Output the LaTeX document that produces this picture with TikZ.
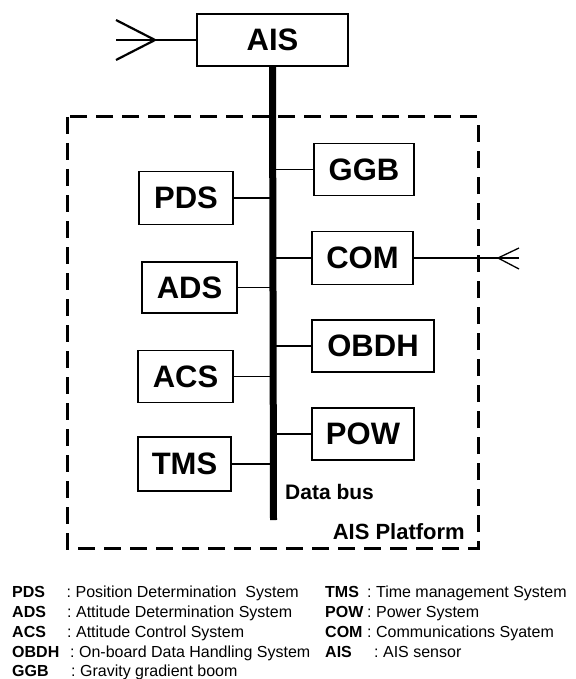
\documentclass[tikz,border=0pt]{standalone}
\usepackage{fontspec}
\setmainfont{Liberation Sans}
\begin{document}
\begin{tikzpicture}[x=1pt,y=-1pt,
  sysbox/.style={draw,line width=1.5pt,inner sep=0pt,font=\fontsize{31}{31}\selectfont\bfseries},
  conn/.style={line width=1.3pt},
  busline/.style={line width=7pt},
  platform/.style={draw,line width=3pt,dash pattern=on 17pt off 9pt},
  lbl/.style={inner sep=0pt,font=\fontsize{21}{21}\selectfont\bfseries},
  abbr/.style={anchor=base west,inner sep=0pt,font=\fontsize{16}{16}\selectfont\bfseries},
  desc/.style={anchor=base west,inner sep=0pt,font=\fontsize{16}{16}\selectfont}]
\useasboundingbox (0,0) rectangle (575,679);
% platform
\draw[platform] (67,117) rectangle (478,548);
% AIS
\node[sysbox,minimum width=151pt,minimum height=52pt] (ais) at (272.5,40) {AIS};
\coordinate (aisfree) at (116,40);
\coordinate (aistip) at (155,40);
\coordinate (aisup) at (116,20);
\coordinate (aisdn) at (116,60);
\draw[line width=2.8pt] (ais.west) -- (aisfree);
\draw[line width=2.2pt] (aisup) -- (aistip) -- (aisdn);
% bus
\coordinate (busbot) at (273.5,520);
\draw[busline] (ais.south) -- (busbot);
% left boxes
\node[sysbox,minimum width=94pt,minimum height=53pt] (pds) at (186,198) {PDS};
\node[sysbox,minimum width=95pt,minimum height=51pt] (ads) at (189.5,287.5) {ADS};
\node[sysbox,minimum width=95pt,minimum height=52pt] (acs) at (185.5,376.5) {ACS};
\node[sysbox,minimum width=93pt,minimum height=54pt] (tms) at (184.5,464) {TMS};
% right boxes
\node[sysbox,minimum width=100pt,minimum height=52pt] (ggb) at (364,169.5) {GGB};
\node[sysbox,minimum width=101pt,minimum height=53pt] (com) at (362.5,258) {COM};
\node[sysbox,minimum width=122pt,minimum height=52pt] (obdh) at (373,346) {OBDH};
\node[sysbox,minimum width=102pt,minimum height=52pt] (pow) at (363,434) {POW};
% connectors
\foreach \b in {pds,ads,acs,tms} \draw[conn] (\b.east) -- (\b.east -| busbot);
\foreach \b in {ggb,com,obdh,pow} \draw[conn] (\b.west) -- (\b.west -| busbot);
% COM antenna
\coordinate (comfree) at (519,258);
\coordinate (comtip) at (498,258);
\coordinate (comup) at (519,248);
\coordinate (comdn) at (519,269);
\draw[conn] (com.east) -- (comfree);
\draw[conn] (comup) -- (comtip) -- (comdn);
% labels
\node[lbl,anchor=base west] (databus) at (285,499) {Data bus};
\node[lbl,anchor=base east,font=\fontsize{22}{22}\selectfont\bfseries] (platlbl) at (465,539) {AIS Platform};
% legend
\node[abbr] (l1) at (12,597) {PDS};
\node[desc] (d1) at (66.5,597) {:\ Position Determination\ \ System};
\node[abbr] (l2) at (12,617.5) {ADS};
\node[desc] (d2) at (67,617.5) {:\ Attitude Determination System};
\node[abbr] (l3) at (12,637.5) {ACS};
\node[desc] (d3) at (67,637.5) {:\ Attitude Control System};
\node[abbr] (l4) at (12,657) {OBDH};
\node[desc] (d4) at (70,657) {:\ On-board Data Handling System};
\node[abbr] (l5) at (12,676) {GGB};
\node[desc] (d5) at (71,676) {:\ Gravity gradient boom};
\node[abbr] (r1) at (325,597) {TMS};
\node[desc] (e1) at (367,597) {:\ Time management System};
\node[abbr] (r2) at (325,617.5) {POW};
\node[desc] (e2) at (367,617.5) {:\ Power System};
\node[abbr] (r3) at (325,637.5) {COM};
\node[desc] (e3) at (367,637.5) {:\ Communications Syatem};
\node[abbr] (r4) at (325,657) {AIS};
\node[desc] (e4) at (374,657) {:\ AIS sensor};
\end{tikzpicture}
\end{document}
